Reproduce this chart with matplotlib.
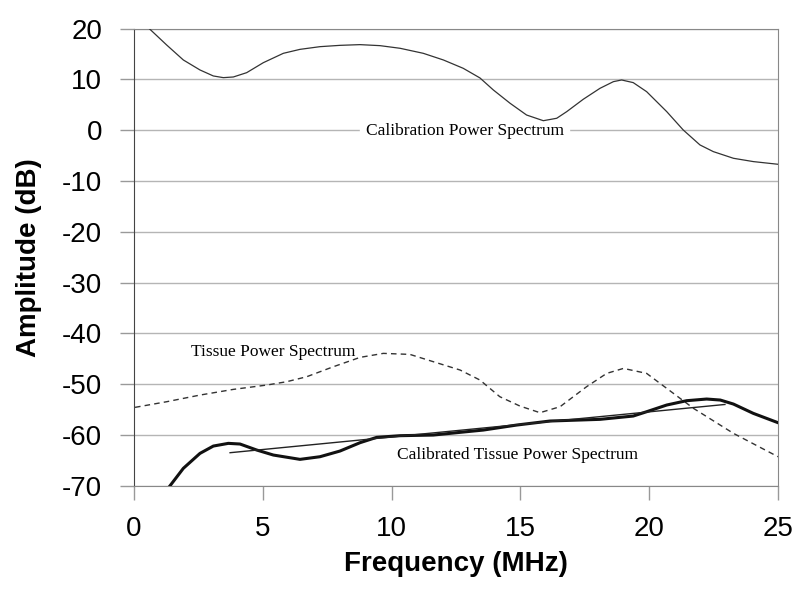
import matplotlib.pyplot as plt

# Calibration power spectrum (dB)
cal_f = [0.595, 1.268, 1.915, 2.562, 3.08, 3.468, 3.856, 4.374, 5.021, 5.797, 6.444,
         7.22, 7.997, 8.773, 9.55, 10.33, 11.23, 12.01, 12.78, 13.43, 13.95, 14.6,
         15.24, 15.89, 16.41, 16.8, 17.44, 18.09, 18.61, 18.93, 19.38, 19.9, 20.68,
         21.32, 21.97, 22.49, 23.27, 24.04, 25.0]
cal_db = [20.0, 16.79, 13.84, 11.87, 10.69, 10.36, 10.49, 11.34, 13.31, 15.15, 15.93,
          16.46, 16.72, 16.86, 16.66, 16.14, 15.15, 13.84, 12.2, 10.3, 7.93, 5.31,
          3.0, 1.88, 2.36, 3.67, 6.1, 8.26, 9.57, 9.9, 9.38, 7.6, 3.67,
          0.06, -2.89, -4.21, -5.52, -6.17, -6.7]

# Tissue power spectrum (dB)
tis_f = [0.04, 1.268, 2.562, 3.856, 5.15, 5.927, 6.703, 7.738, 8.773, 9.679, 10.71,
         11.62, 12.66, 13.43, 14.2, 14.98, 15.76, 16.54, 17.57, 18.35, 19.0, 19.9,
         20.68, 21.72, 23.27, 25.0]
tis_db = [-54.57, -53.46, -52.15, -51.03, -50.18, -49.52, -48.54, -46.57, -44.73,
          -43.94, -44.14, -45.58, -47.22, -49.19, -52.47, -54.31, -55.62, -54.44,
          -50.5, -47.88, -46.9, -47.88, -50.83, -54.77, -59.69, -64.29]

# Calibrated tissue power spectrum (dB)
ctp_f = [1.40, 1.915, 2.562, 3.08, 3.662, 4.115, 4.762, 5.41, 6.444, 7.22, 7.997,
         8.773, 9.42, 10.33, 11.62, 12.92, 13.56, 14.86, 16.15, 18.09, 19.38, 19.9,
         20.68, 21.45, 22.23, 22.76, 23.27, 24.04, 25.0]
ctp_db = [-70.0, -66.58, -63.63, -62.19, -61.66, -61.79, -62.97, -63.96, -64.81,
          -64.29, -63.17, -61.53, -60.48, -60.15, -60.02, -59.36, -59.04, -58.05,
          -57.26, -56.93, -56.28, -55.43, -54.11, -53.26, -52.93, -53.13, -53.92,
          -55.75, -57.59]

# linear fit to calibrated spectrum
fit_f = [3.73, 22.94]
fit_db = [-63.5, -54.0]

plt.rcParams['font.family'] = 'Liberation Sans'
plt.rcParams['axes.unicode_minus'] = False

fig = plt.figure(figsize=(8, 5.94), dpi=100)
ax = fig.add_axes([0.1675, 0.1823, 0.805, 0.7694])

ax.plot(cal_f, cal_db, color='#333333', lw=0.9, zorder=3)
ax.plot(tis_f, tis_db, color='#333333', lw=1.0, linestyle=(0, (4, 3)), zorder=3)
ax.plot(ctp_f, ctp_db, color='#111111', lw=2.2, zorder=3)
ax.plot(fit_f, fit_db, color='#222222', lw=1.0, zorder=3)

ax.set_xlim(0, 25)
ax.set_ylim(-70, 20)
ax.set_xticks(range(0, 26, 5))
ax.set_yticks(range(-70, 21, 10))
ax.yaxis.grid(True, color='#b5b5b5', lw=1.0)
ax.set_axisbelow(True)

for s in ['top', 'right', 'bottom']:
    ax.spines[s].set_color('#888888')
ax.spines['left'].set_color('#444444')
ax.tick_params(axis='both', labelsize=20, color='#999999', length=10, width=1)
ax.tick_params(axis='y', pad=13)
ax.tick_params(axis='x', pad=12)

ax.set_xlabel('Frequency (MHz)', fontsize=20, fontweight='bold', labelpad=6)
ax.set_ylabel('Amplitude (dB)', fontsize=20, fontweight='bold', labelpad=14)

serif = 'Liberation Serif'
ax.text(9.0, -0.2, 'Calibration Power Spectrum', family=serif, fontsize=12.5,
        va='center', ha='left', backgroundcolor='white', zorder=1)
ax.text(2.2, -43.6, 'Tissue Power Spectrum', family=serif, fontsize=12.5,
        va='center', ha='left', zorder=1)
ax.text(10.2, -63.9, 'Calibrated Tissue Power Spectrum', family=serif, fontsize=12.5,
        va='center', ha='left', zorder=1)

fig.savefig('out.png', dpi=100)
